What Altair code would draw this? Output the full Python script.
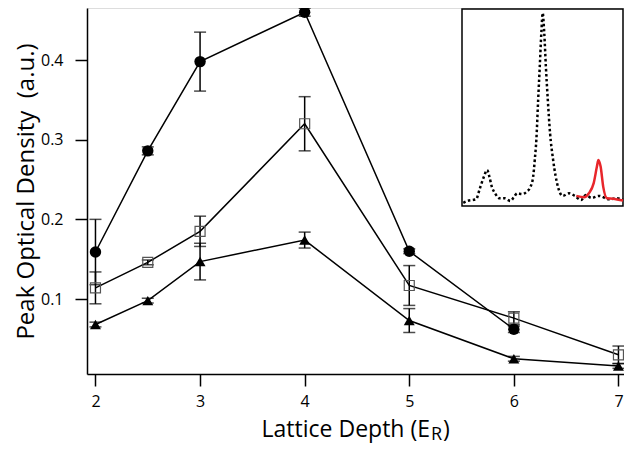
import altair as alt
import pandas as pd

# ---------------- main data ----------------
depth_circle = [2, 2.5, 3, 4, 5, 6]
od_circle = [0.159, 0.286, 0.398, 0.460, 0.160, 0.062]
err_circle = [0.041, 0.005, 0.037, 0.005, 0.003, 0.004]

depth_square = [2, 2.5, 3, 4, 5, 6, 7]
od_square = [0.114, 0.146, 0.185, 0.320, 0.117, 0.076, 0.030]
err_square = [0.020, 0.003, 0.019, 0.034, 0.025, 0.008, 0.011]

depth_tri = [2, 2.5, 3, 4, 5, 6, 7]
od_tri = [0.068, 0.098, 0.147, 0.174, 0.073, 0.025, 0.016]
err_tri = [0.003, 0.003, 0.023, 0.010, 0.015, 0.003, 0.003]

x_ticks = [2, 3, 4, 5, 6, 7]
y_ticks = [0.1, 0.2, 0.3, 0.4]

# ---------------- inset data ----------------
inset_black_x = [0.8, 3.7, 6.7, 8.7, 11.1, 13.6, 15.6, 17.0, 18.5, 20.5, 23.5, 26.4, 30.0,
                 32.4, 34.3, 37.3, 40.2, 42.6, 44.2, 45.2, 46.2, 47.3, 48.3, 49.3, 50.1,
                 51.1, 52.1, 53.3, 54.7, 56.6, 59.6, 62.5, 66.5, 70.1, 74.0, 76.9, 80.5,
                 85.0, 91.5, 96.4, 100.0]
inset_black_y = [0.016, 0.026, 0.030, 0.033, 0.087, 0.145, 0.178, 0.145, 0.096, 0.063, 0.038,
                 0.038, 0.025, 0.046, 0.063, 0.059, 0.071, 0.096, 0.145, 0.228, 0.33, 0.525,
                 0.69, 0.86, 0.955, 0.855, 0.69, 0.525, 0.36, 0.228, 0.095, 0.050, 0.063,
                 0.050, 0.030, 0.054, 0.040, 0.050, 0.033, 0.038, 0.030]
inset_red_x = [71.0, 75.9, 78.8, 81.8, 83.8, 84.7, 86.1, 87.7, 90.1, 93.7, 100.0]
inset_red_y = [0.050, 0.043, 0.063, 0.113, 0.195, 0.228, 0.195, 0.096, 0.038, 0.036, 0.027]

x_title_main = "Lattice Depth (E"
x_title_sub = "R"
x_title_end = ")"
y_title = "Peak Optical Density\u00a0 (a.u.)"

FONT = "Open Sans"

rows = []
for name, xs, ys, es in [("circle", depth_circle, od_circle, err_circle),
                         ("square", depth_square, od_square, err_square),
                         ("triangle", depth_tri, od_tri, err_tri)]:
    for x, y, e in zip(xs, ys, es):
        rows.append({"series": name, "depth": x, "od": y, "lo": y - e, "hi": y + e})
df = pd.DataFrame(rows)

x_scale = alt.Scale(domain=[1.919, 7.053], nice=False, zero=False)
y_scale = alt.Scale(domain=[0.0059, 0.4653], nice=False, zero=False)

x_enc = alt.X("depth:Q", scale=x_scale,
              axis=alt.Axis(values=x_ticks, format="d", title="", grid=False,
                            tickSize=12, tickWidth=1.5, domainWidth=1.5,
                            domainColor="black", tickColor="black",
                            labelFont=FONT, labelFontSize=16, labelColor="black",
                            labelPadding=7))
y_axis = alt.Axis(values=y_ticks, format=".1f", title=y_title, grid=False,
                  tickSize=12, tickWidth=1.5, domainWidth=1.5,
                  domainColor="black", tickColor="black",
                  labelFont=FONT, labelFontSize=16, labelColor="black", labelPadding=12,
                  titleFont=FONT, titleFontSize=24, titleFontWeight="normal",
                  titleColor="black", titlePadding=2)

base = alt.Chart(df)

lines = base.mark_line(color="black", strokeWidth=1.5).encode(
    x=x_enc,
    y=alt.Y("od:Q", scale=y_scale, axis=y_axis),
    detail="series:N",
    order="depth:Q",
)

rules = base.mark_rule(color="black", strokeWidth=1.5).encode(
    x="depth:Q", y="lo:Q", y2="hi:Q"
)

caps = base.transform_fold(["lo", "hi"], as_=["which", "val"]).mark_tick(
    color="black", orient="horizontal", size=12, thickness=1.5
).encode(x="depth:Q", y="val:Q")

circles = base.transform_filter(alt.datum.series == "circle").mark_point(
    shape="circle", filled=True, size=130, color="black", opacity=1
).encode(x="depth:Q", y="od:Q")

squares = base.transform_filter(alt.datum.series == "square").mark_point(
    shape="square", filled=False, size=100, color="#555555", strokeWidth=1.2, opacity=1
).encode(x="depth:Q", y="od:Q")

triangles = base.transform_filter(alt.datum.series == "triangle").mark_point(
    shape="triangle-up", filled=True, size=120, color="black", opacity=1
).encode(x="depth:Q", y="od:Q")

main = alt.layer(lines, rules, caps, circles, squares, triangles)

# ---------------- inset ----------------
ix = alt.Scale(domain=[0, 100], range=[375, 536], nice=False, zero=False)
iy = alt.Scale(domain=[0, 1], range=[198, -4], nice=False, zero=False)

black_df = pd.DataFrame({"px": inset_black_x, "py": inset_black_y})
red_df = pd.DataFrame({"px": inset_red_x, "py": inset_red_y})

frame = alt.Chart(pd.DataFrame({"a": [0]})).mark_rect(
    fillOpacity=0, stroke="black", strokeWidth=1.5
).encode(x=alt.value(375), x2=alt.value(536), y=alt.value(1), y2=alt.value(198))

black_line = alt.Chart(black_df).mark_line(
    color="black", strokeWidth=2.5, strokeDash=[2.5, 2.5], interpolate="monotone"
).encode(x=alt.X("px:Q", scale=ix, axis=None), y=alt.Y("py:Q", scale=iy, axis=None))

red_line = alt.Chart(red_df).mark_line(
    color="#e8262b", strokeWidth=2.5, interpolate="monotone"
).encode(x=alt.X("px:Q", scale=ix, axis=None), y=alt.Y("py:Q", scale=iy, axis=None))

t1 = alt.Chart(pd.DataFrame({"t": [x_title_main]})).mark_text(
    align="right", baseline="alphabetic", font=FONT, fontSize=23, color="black"
).encode(text="t:N", x=alt.value(343), y=alt.value(429))
t2 = alt.Chart(pd.DataFrame({"t": [x_title_sub]})).mark_text(
    align="left", baseline="alphabetic", font=FONT, fontSize=18, color="black"
).encode(text="t:N", x=alt.value(344), y=alt.value(432))
t3 = alt.Chart(pd.DataFrame({"t": [x_title_end]})).mark_text(
    align="left", baseline="alphabetic", font=FONT, fontSize=23, color="black"
).encode(text="t:N", x=alt.value(356), y=alt.value(429))

inset = alt.layer(frame, black_line, red_line, t1, t2, t3)

chart = alt.layer(main, inset).resolve_scale(x="independent", y="independent").properties(
    width=537, height=366,
    autosize=alt.AutoSizeParams(type="none"),
    padding={"left": 79, "top": 0, "right": 0, "bottom": 71},
).configure_view(stroke=None).configure(background="white")

chart.save("out.html", embed_options={"renderer": "svg", "actions": False})
